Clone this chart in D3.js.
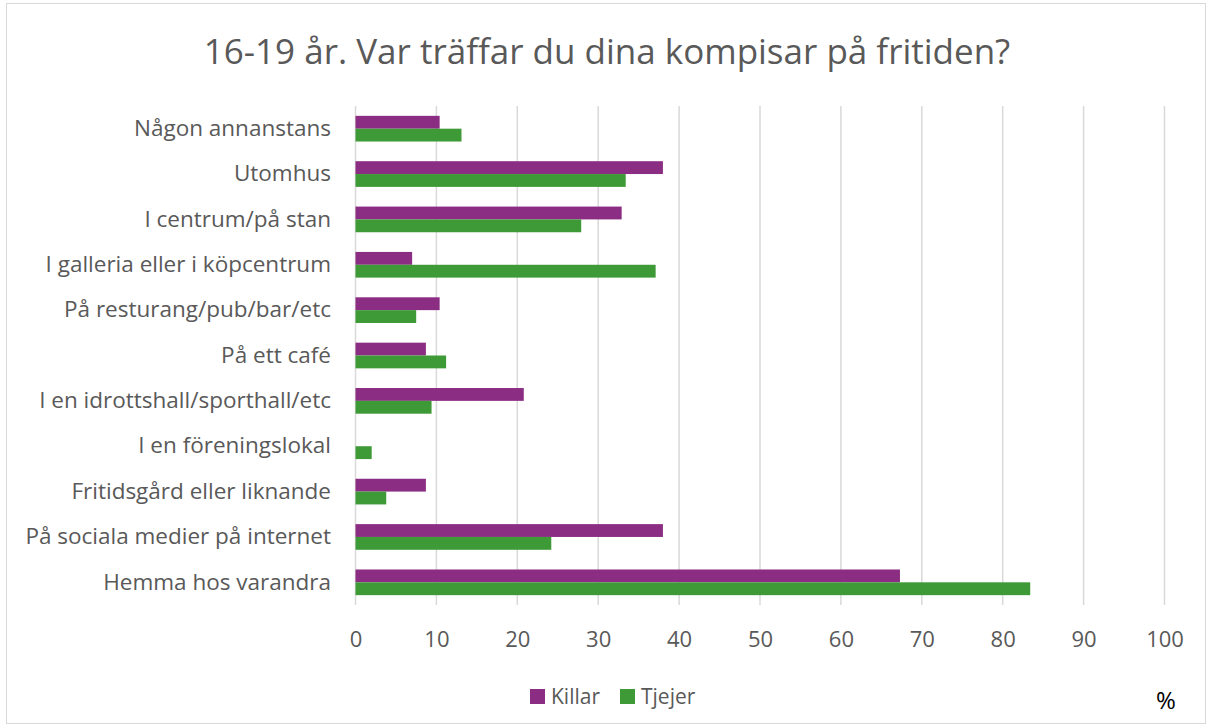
<!DOCTYPE html>
<html>
<head>
<meta charset="utf-8">
<script src="https://cdn.jsdelivr.net/npm/d3@7"></script>
<style>
  body { margin: 0; background: #fff; }
  text { font-family: "Open Sans", "Noto Sans", sans-serif; }
</style>
</head>
<body>
<script>
// categories, top to bottom as shown
const categories = [
  "Någon annanstans",
  "Utomhus",
  "I centrum/på stan",
  "I galleria eller i köpcentrum",
  "På resturang/pub/bar/etc",
  "På ett café",
  "I en idrottshall/sporthall/etc",
  "I en föreningslokal",
  "Fritidsgård eller liknande",
  "På sociala medier på internet",
  "Hemma hos varandra"
];
const killar = [10.4, 38.0, 32.9, 7.0, 10.4, 8.7, 20.8, 0, 8.7, 38.0, 67.3];
const tjejer = [13.1, 33.4, 27.9, 37.1, 7.5, 11.2, 9.4, 2.0, 3.8, 24.2, 83.4];
const seriesNames = ["Killar", "Tjejer"];
const xTicks = [0, 10, 20, 30, 40, 50, 60, 70, 80, 90, 100];

const colors = ["#8B2D82", "#3E9A36"];
const w = 1212, h = 727;

const svg = d3.select("body").append("svg")
  .attr("width", w)
  .attr("height", h);

// outer chart border
svg.append("rect")
  .attr("x", 6.5).attr("y", 3.5)
  .attr("width", w - 13).attr("height", h - 7)
  .attr("fill", "#fff")
  .attr("stroke", "#D9D9D9");

const x = d3.scaleLinear().domain([0, 100]).range([355.5, 1164.5]);
const y = d3.scaleBand().domain(categories).range([106, 605]).paddingInner(0.434).paddingOuter(0.217);
const y1 = d3.scaleBand().domain(seriesNames).range([0, y.bandwidth()]);

// gridlines
svg.append("g")
  .selectAll("line")
  .data(xTicks)
  .join("line")
  .attr("x1", d => x(d)).attr("x2", d => x(d))
  .attr("y1", 106).attr("y2", 605)
  .attr("stroke", "#D9D9D9")
  .attr("stroke-width", 1.5);

// bars
const rows = categories.map((c, i) => ({ cat: c, vals: [killar[i], tjejer[i]] }));
const grp = svg.append("g").selectAll("g")
  .data(rows)
  .join("g")
  .attr("transform", d => "translate(0," + y(d.cat) + ")");

grp.selectAll("rect")
  .data(d => d.vals.map((v, j) => ({ v: v, s: seriesNames[j], j: j })))
  .join("rect")
  .attr("x", x(0))
  .attr("y", d => y1(d.s))
  .attr("width", d => x(d.v) - x(0))
  .attr("height", y1.bandwidth())
  .attr("fill", d => colors[d.j]);

// x axis (labels only)
const xAxis = d3.axisBottom(x).tickValues(xTicks).tickSize(0).tickPadding(0);
const gx = svg.append("g")
  .attr("transform", "translate(0,640)")
  .call(xAxis);
gx.select(".domain").remove();
gx.selectAll("text")
  .attr("font-size", 22)
  .attr("fill", "#595959")
  .attr("dy", "0.32em")
  .style("font-family", "'Open Sans', sans-serif");

// y axis (labels only)
const yAxis = d3.axisLeft(y).tickSize(0).tickPadding(0);
const gy = svg.append("g")
  .attr("transform", "translate(331,0)")
  .call(yAxis);
gy.select(".domain").remove();
gy.selectAll("text")
  .attr("font-size", 22.5)
  .attr("fill", "#595959")
  .style("font-family", "'Open Sans', sans-serif");

// title
svg.append("text")
  .attr("x", 607).attr("y", 64)
  .attr("text-anchor", "middle")
  .attr("font-size", 35)
  .attr("fill", "#595959")
  .text("16-19 år. Var träffar du dina kompisar på fritiden?");

// legend
const legendX = [530, 620];
const lg = svg.append("g").selectAll("g")
  .data(seriesNames)
  .join("g")
  .attr("transform", (d, i) => "translate(" + legendX[i] + ",689)");
lg.append("rect")
  .attr("width", 15).attr("height", 15)
  .attr("fill", (d, i) => colors[i]);
lg.append("text")
  .attr("x", 21).attr("y", 8)
  .attr("dy", "0.35em")
  .attr("font-size", 21)
  .attr("fill", "#595959")
  .text(d => d);

// unit
svg.append("text")
  .attr("x", 1166).attr("y", 709)
  .attr("text-anchor", "middle")
  .attr("font-size", 24)
  .attr("fill", "#000")
  .text("%");
</script>
</body>
</html>
